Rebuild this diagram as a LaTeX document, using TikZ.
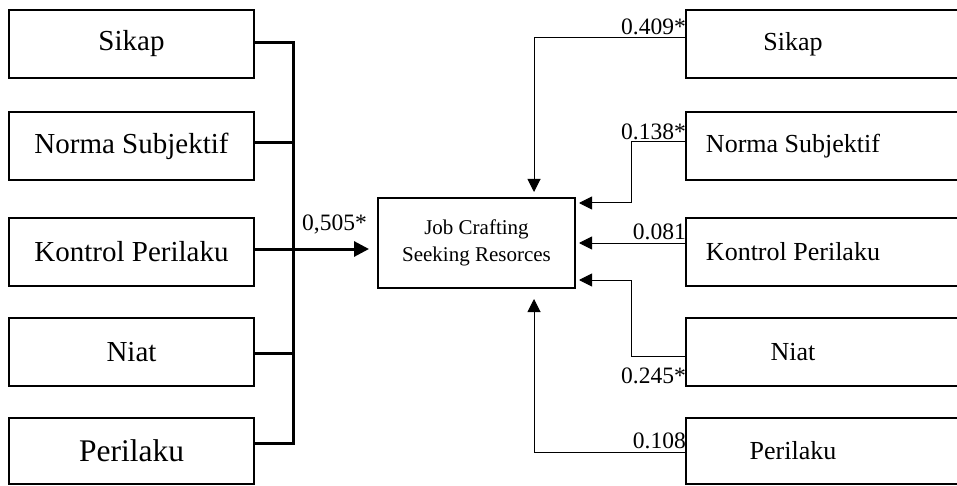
\documentclass[tikz,border=0pt]{standalone}
\usepackage{fontspec}
\setmainfont{Liberation Serif}
\usetikzlibrary{arrows.meta,calc}
\begin{document}
\begin{tikzpicture}[x=1pt,y=-1pt,
  lbox/.style={draw,line width=2pt,minimum width=245pt,minimum height=68pt,inner sep=0pt,font=\fontsize{29}{32}\selectfont},
  rbox/.style={draw=none,minimum width=214pt,minimum height=68pt,inner sep=0pt,font=\fontsize{26}{30}\selectfont},
  rborder/.style={line width=2pt},
  cbox/.style={draw,line width=2pt,minimum width=197pt,minimum height=90pt,inner sep=0pt,align=center,font=\fontsize{21}{26.5}\selectfont},
  busline/.style={line width=3pt,line join=miter},
  rline/.style={line width=1pt,-{Triangle[length=13pt,width=13pt]}},
  lbl/.style={inner sep=0pt,font=\fontsize{23.5}{26}\selectfont}]
\clip (0,0) rectangle (957,486);
\fill[white] (0,0) rectangle (957,486);

% left boxes
\node[lbox] (lS) at (131.5,44) {Sikap};
\node[lbox] (lN) at (131.5,146) {Norma Subjektif};
\node[lbox] (lK) at (131.5,252) {Kontrol Perilaku};
\node[lbox] (lI) at (131.5,352) {Niat};
\node[lbox,minimum height=66pt,font=\fontsize{31.5}{34}\selectfont] (lP) at (131.5,451) {Perilaku};

% centre box
\node[cbox] (c) at (476.5,243) {Job Crafting\\Seeking Resorces};

% bus
\coordinate (bS) at (293,43);
\coordinate (bN) at (293,143);
\coordinate (bK) at (293,249);
\coordinate (bI) at (293,353);
\coordinate (bP) at (293,443);
\draw[busline] (lS.east|-bS) -- (bS) -- (bP) -- (lP.east|-bP);
\draw[busline] (lN.east|-bN) -- (bN);
\draw[busline] (lI.east|-bI) -- (bI);
\draw[busline,-{Triangle[length=15pt,width=15pt]},shorten >=8pt] (lK.east|-bK) -- (c.west|-bK);
\node[lbl,anchor=base west] (l505) at (302,230) {0,505*};

% right boxes
\node[rbox] (rS) at (793,44) {Sikap};
\node[rbox] (rN) at (793,146) {Norma Subjektif};
\node[rbox] (rK) at (793,252) {Kontrol Perilaku};
\node[rbox] (rI) at (793,352) {Niat};
\node[rbox,minimum height=66pt] (rP) at (793,451) {Perilaku};
\foreach \n in {rS,rN,rK,rI,rP}{
  \draw[rborder] ($(\n.north east)+(80,0)$) -- (\n.north west) -- (\n.south west) -- ($(\n.south east)+(80,0)$);
}

% right connectors
\draw[rline] ([yshift=6pt]rS.west) -| ([xshift=57.5pt,yshift=5pt]c.north);
\draw[rline] ([yshift=4pt]rN.west) -- ++(-54,0) |- ([xshift=3pt,yshift=40pt]c.east);
\draw[rline] ([yshift=9pt]rK.west) -- ([xshift=3pt]c.east);
\draw[rline] ([yshift=-4pt]rI.west) -- ++(-54,0) |- ([xshift=3pt,yshift=-37pt]c.east);
\draw[rline] ([yshift=-1pt]rP.west) -| ([xshift=57.5pt,yshift=-10pt]c.south);

% labels
\node[lbl,anchor=base east] (l409) at (686,35) {0.409*};
\node[lbl,anchor=base east] (l138) at (686,140) {0.138*};
\node[lbl,anchor=base east] (l081) at (686,240) {0.081};
\node[lbl,anchor=base east] (l245) at (686,383) {0.245*};
\node[lbl,anchor=base east] (l108) at (686,448) {0.108};
\end{tikzpicture}
\end{document}
